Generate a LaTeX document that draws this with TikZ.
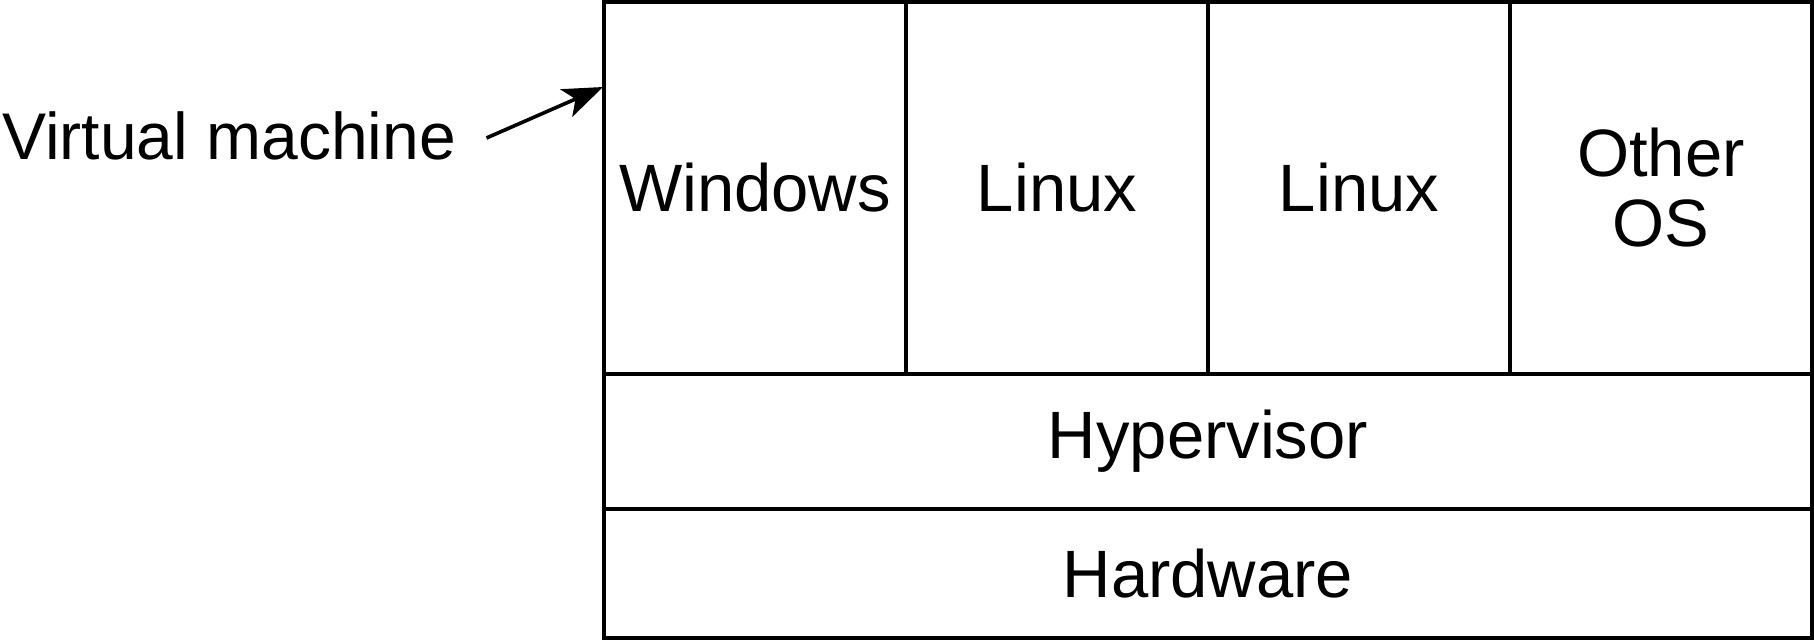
\documentclass[tikz,border=0pt]{standalone}
\usepackage{fontspec}
\setmainfont{Liberation Sans}
\usetikzlibrary{positioning,arrows.meta}

\begin{document}
\begin{tikzpicture}[x=0.5pt,y=-0.5pt,
vm/.style={rectangle, draw, line width=1.7pt, minimum width=151pt, minimum height=186pt, inner sep=0pt, outer sep=0pt, align=center, font=\fontsize{33.5}{35}\selectfont},
layer/.style={rectangle, draw, line width=1.7pt, minimum width=604pt, inner sep=0pt, outer sep=0pt, font=\fontsize{33.5}{35}\selectfont},
]
\useasboundingbox (0,0) rectangle (1814,641);

\node (win) [vm, anchor=north west] at (604,2) {Windows};
\node (lin1) [vm, right=0pt of win] {Linux};
\node (lin2) [vm, right=0pt of lin1] {Linux};
\node (other) [vm, right=0pt of lin2] {Other\\OS};
\node (hyp) [layer, minimum height=67.5pt, below right=0pt and 0pt of win.south west] {Hypervisor};
\node (hw) [layer, minimum height=64.5pt, below right=0pt and 0pt of hyp.south west] {Hardware};

\node (vmlabel) [anchor=west, inner sep=1pt, font=\fontsize{33}{35}\selectfont] at (0,136) {Virtual machine};
\coordinate (vmtip) at (603,87);
\draw [line width=1.8pt, -{Stealth[length=20pt,width=15pt,inset=5pt]}] ([xshift=14pt,yshift=-1pt]vmlabel.east) -- (vmtip);

\end{tikzpicture}
\end{document}
